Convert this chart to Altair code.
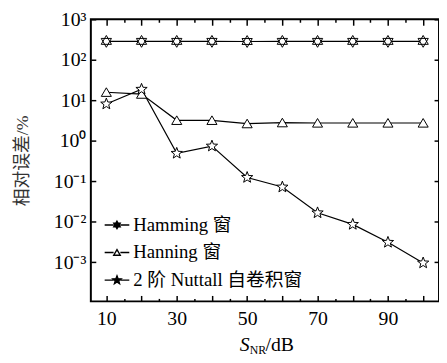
import altair as alt
import pandas as pd
import re

snr = [10, 20, 30, 40, 50, 60, 70, 80, 90, 100]
hamming = [285, 285, 285, 285, 283, 285, 285, 285, 285, 285]
hanning = [15.8, 14.2, 3.2, 3.2, 2.65, 2.8, 2.75, 2.75, 2.75, 2.75]
nuttall = [8.1, 18.7, 0.49, 0.74, 0.124, 0.072, 0.0166, 0.0086, 0.0031, 0.00096]
series_names = ["Hamming 窗", "Hanning 窗", "2 阶 Nuttall 自卷积窗"]

x_major = [10, 20, 30, 40, 50, 60, 70, 80, 90, 100]
x_minor = [15, 25, 35, 45, 55, 65, 75, 85, 95]
x_labeled = [10, 30, 50, 70, 90]
y_ticks = [1e-3, 1e-2, 1e-1, 1, 10, 100, 1000]
y_sup = ["⁻³", "⁻²", "⁻¹", "⁰", "¹", "²", "³"]
title_parts = ["S", "NR", "/dB"]

rows = []
for name, vals in zip(series_names, [hamming, hanning, nuttall]):
    for x, v in zip(snr, vals):
        rows.append({"snr": x, "err": v, "series": name})
df = pd.DataFrame(rows)

hexagram = "M0,-1L0.866,0.5L-0.866,0.5ZM0,1L-0.866,-0.5L0.866,-0.5Z"
triangle = "M0,-0.75L0.85,0.7L-0.85,0.7Z"
star = ("M0,-1L0.247,-0.34L0.951,-0.309L0.399,0.13L0.588,0.809L0,0.42"
        "L-0.588,0.809L-0.399,0.13L-0.951,-0.309L-0.247,-0.34Z")


def scaled(path, k):
    return re.sub(r"-?\d+\.?\d*", lambda m: "%g" % (float(m.group(0)) * k), path)


leg_line = "M-2,0H-0.55M0.55,0H2"
legend_paths = [leg_line + scaled(hexagram, 0.6),
                leg_line + scaled(triangle, 0.62),
                leg_line + scaled(star, 0.7)]
legend_fills = ["black", "white", "black"]
legend_strokes = ["black", "black", "black"]

W, H = 353, 286
xscale = alt.Scale(domain=[5.6, 104.5], nice=False, zero=False)
yscale = alt.Scale(type="log", domain=[1.08e-4, 1000], nice=False)
FONT = "Liberation Serif, Noto Sans CJK SC"

xlab_expr = "indexof(%s, datum.value) >= 0 ? datum.label : ''" % str(x_labeled)
ylab_expr = "'10' + %s[round(log(datum.value)/LN10) + 3]" % str(y_sup)

base = alt.Chart(df)

lines = base.mark_line(color="black", strokeWidth=1.2).encode(
    x=alt.X("snr:Q", scale=xscale, axis=alt.Axis(
        orient="bottom", values=x_major, labelExpr=xlab_expr, title=None,
        tickSize=6, offset=-6, domain=False, grid=False, labelPadding=7,
        labelFontSize=20, labelFont=FONT)),
    y=alt.Y("err:Q", scale=yscale, axis=alt.Axis(
        orient="left", values=y_ticks, labelExpr=ylab_expr, tickSize=5, offset=-5,
        domain=False, grid=False, labelPadding=5, labelFontSize=20, labelFont=FONT,
        title="相对误差/%", titleFont=FONT, titleFontSize=18, titleFontWeight="normal",
        titleColor="#333", titlePadding=22)),
    detail="series:N",
)

points = base.mark_point(filled=False, fill="white", fillOpacity=1, stroke="black",
                         strokeWidth=1, size=144, opacity=1).encode(
    x=alt.X("snr:Q", scale=xscale, axis=alt.Axis(
        orient="top", values=x_major, labels=False, title=None, tickSize=6, offset=-6,
        domain=False, grid=False)),
    y=alt.Y("err:Q", scale=yscale, axis=alt.Axis(
        orient="right", values=y_ticks, labels=False, title=None, tickSize=5, offset=-5,
        domain=False, grid=False)),
    shape=alt.Shape("series:N", scale=alt.Scale(domain=series_names,
                    range=[hexagram, triangle, star]), legend=None),
)

leg_props = dict(title=None, orient="none", legendX=17, legendY=199,
                 labelFont=FONT, labelFontSize=19, labelColor="black",
                 symbolSize=156, labelOffset=7, rowPadding=8, labelLimit=300,
                 symbolStrokeWidth=1.4)

legend_layer = base.transform_filter("false").mark_point(
    size=156, filled=True, strokeWidth=1.4, opacity=1).encode(
    x=alt.X("snr:Q", scale=xscale, axis=alt.Axis(
        orient="bottom", values=x_minor, labels=False, title=None, tickSize=3, offset=-3,
        domain=False, grid=False)),
    shape=alt.Shape("series:N", scale=alt.Scale(domain=series_names, range=legend_paths),
                    legend=alt.Legend(**leg_props)),
    fill=alt.Fill("series:N", scale=alt.Scale(domain=series_names, range=legend_fills),
                  legend=alt.Legend(**leg_props)),
    stroke=alt.Stroke("series:N", scale=alt.Scale(domain=series_names, range=legend_strokes),
                      legend=alt.Legend(**leg_props)),
)

minor_top = base.transform_filter("false").mark_point().encode(
    x=alt.X("snr:Q", scale=xscale, axis=alt.Axis(
        orient="top", values=x_minor, labels=False, title=None, tickSize=3, offset=-3,
        domain=False, grid=False)),
)

tdf = pd.DataFrame({"t": title_parts})
t_s = alt.Chart(tdf).transform_filter(alt.datum.t == title_parts[0]).mark_text(
    font="Liberation Serif", fontSize=20, fontStyle="italic", align="left", baseline="alphabetic"
).encode(text="t:N", x=alt.value(151), y=alt.value(H + 50))
t_nr = alt.Chart(tdf).transform_filter(alt.datum.t == title_parts[1]).mark_text(
    font="Liberation Serif", fontSize=12, align="left", baseline="alphabetic"
).encode(text="t:N", x=alt.value(161), y=alt.value(H + 53))
t_db = alt.Chart(tdf).transform_filter(alt.datum.t == title_parts[2]).mark_text(
    font="Liberation Serif", fontSize=20, align="left", baseline="alphabetic"
).encode(text="t:N", x=alt.value(177), y=alt.value(H + 50))

chart = alt.layer(lines, points, legend_layer, minor_top, t_s, t_nr, t_db).resolve_scale(
    shape="independent", fill="independent", stroke="independent"
).resolve_axis(x="independent", y="independent").properties(
    width=W, height=H,
    padding={"left": 84, "top": 9, "right": 0, "bottom": 58},
    autosize=alt.AutoSizeParams(type="none"),
).configure_view(stroke="black", strokeWidth=2).configure_axis(
    tickColor="black", tickWidth=1.5, labelColor="black"
)

chart.save("out.html", embed_options={"renderer": "svg", "actions": False})
